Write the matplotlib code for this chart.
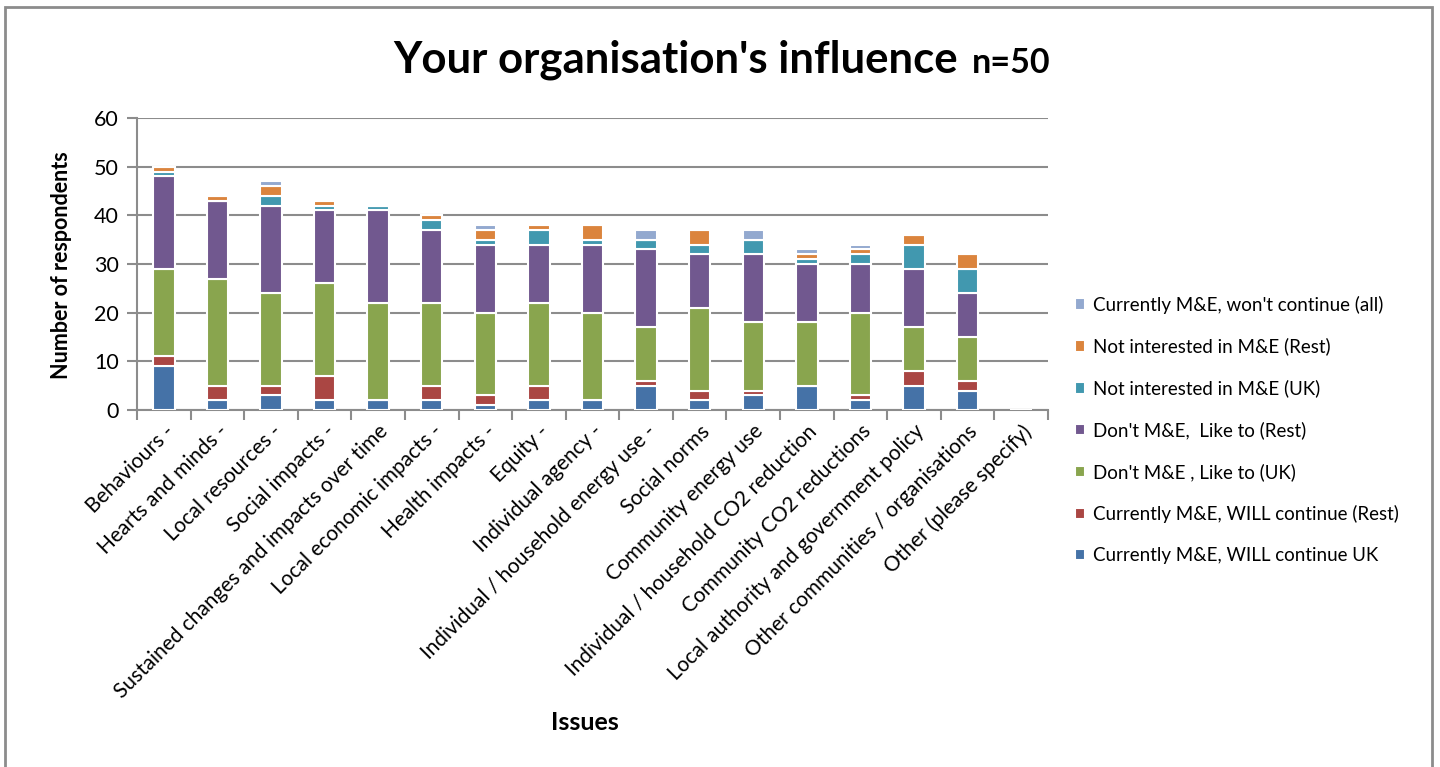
import numpy as np
import matplotlib
matplotlib.use('Agg')
from matplotlib import pyplot as plt
from matplotlib.patches import Rectangle

plt.rcParams['font.family'] = ['Lato', 'DejaVu Sans']

issues = ['Behaviours -', 'Hearts and minds -', 'Local resources -', 'Social impacts -',
          'Sustained changes and impacts over time', 'Local economic impacts -',
          'Health impacts -', 'Equity -', 'Individual agency -',
          'Individual / household energy use -', 'Social norms', 'Community energy use',
          'Individual / household CO2 reduction', 'Community CO2 reductions',
          'Local authority and government policy', 'Other communities / organisations',
          'Other (please specify)']

will_uk = [9, 2, 3, 2, 2, 2, 1, 2, 2, 5, 2, 3, 5, 2, 5, 4, 0]
will_rest = [2, 3, 2, 5, 0, 3, 2, 3, 0, 1, 2, 1, 0, 1, 3, 2, 0]
like_uk = [18, 22, 19, 19, 20, 17, 17, 17, 18, 11, 17, 14, 13, 17, 9, 9, 0]
like_rest = [19, 16, 18, 15, 19, 15, 14, 12, 14, 16, 11, 14, 12, 10, 12, 9, 0]
notint_uk = [1, 0, 2, 1, 1, 2, 1, 3, 1, 2, 2, 3, 1, 2, 5, 5, 0]
notint_rest = [1, 1, 2, 1, 0, 1, 2, 1, 3, 0, 3, 0, 1, 1, 2, 3, 0]
wont_all = [0, 0, 1, 0, 0, 0, 1, 0, 0, 2, 0, 2, 1, 1, 0, 0, 0]

series = [
    ('Currently M&E, WILL continue UK', will_uk, '#4572A7'),
    ('Currently M&E, WILL continue (Rest)', will_rest, '#AA4643'),
    ("Don't M&E , Like to (UK)", like_uk, '#89A54E'),
    ("Don't M&E,  Like to (Rest)", like_rest, '#71588F'),
    ('Not interested in M&E (UK)', notint_uk, '#4198AF'),
    ('Not interested in M&E (Rest)', notint_rest, '#DB843D'),
    ("Currently M&E, won't continue (all)", wont_all, '#93A9CF'),
]

fig = plt.figure(figsize=(14.4, 7.67), dpi=100)
ax = fig.add_axes([137 / 1440, 1 - 410 / 767, (1048 - 137) / 1440, (410 - 118) / 767])

x = np.arange(len(issues))
bottom = np.zeros(len(issues))
handles = []
for name, vals, col in series:
    vals = np.array(vals, dtype=float)
    b = ax.bar(x, vals, 0.4, bottom=bottom, color=col, edgecolor='white',
               linewidth=1.5, label=name, zorder=3)
    handles.append(b)
    bottom += vals

ax.set_xlim(-0.5, len(issues) - 0.5)
ax.set_ylim(0, 60)
ax.set_yticks(range(0, 61, 10))
ax.yaxis.grid(True, color='#8c8c8c', linewidth=1.5, zorder=0)
ax.set_axisbelow(True)
for s in ['top', 'right']:
    ax.spines[s].set_visible(False)
for s in ['left', 'bottom']:
    ax.spines[s].set_color('#8c8c8c')
    ax.spines[s].set_linewidth(1.5)

ax.set_xticks(x)
ax.set_xticklabels(issues, rotation=45, ha='right', rotation_mode='anchor', fontsize=15)
ax.tick_params(axis='x', length=0, pad=8)
ax.set_xticks(np.arange(-0.5, len(issues), 1), minor=True)
ax.tick_params(axis='x', which='minor', length=7, width=1.5, color='#8c8c8c')
ax.tick_params(axis='y', length=7, width=1.5, color='#8c8c8c', labelsize=15.5, pad=6)

fig.text(61 / 1440, 1 - 265 / 767, 'Number of respondents', fontsize=15.5,
         fontweight='bold', rotation=90, ha='center', va='center')
fig.text(585 / 1440, 1 - 723 / 767, 'Issues', fontsize=18, fontweight='bold',
         ha='center', va='center')

leg = ax.legend(handles[::-1], [h.get_label() for h in handles[::-1]],
                loc='center left', bbox_to_anchor=(1058 / 1440, 1 - 430 / 767),
                bbox_transform=fig.transFigure, frameon=False, fontsize=13.5,
                handlelength=0.55, handleheight=0.55, handletextpad=0.4, labelspacing=1.28)

# title: main text plus smaller n=50
t1 = fig.text(0, 1 - 60 / 767, "Your organisation's influence", fontsize=31.5,
              fontweight='bold', ha='left', va='center')
t2 = fig.text(0, 1 - 63 / 767, 'n=50', fontsize=24.5, fontweight='bold',
              ha='left', va='center')
fig.canvas.draw()
r = fig.canvas.get_renderer()
w1 = t1.get_window_extent(r).width / 1440
w2 = t2.get_window_extent(r).width / 1440
gap = 14 / 1440
start = 722 / 1440 - (w1 + gap + w2) / 2
t1.set_x(start)
t2.set_x(start + w1 + gap)

fig.add_artist(Rectangle((5 / 1440, -0.05), (1432 - 5) / 1440, 1.05 - 7 / 767,
                         transform=fig.transFigure, fill=False,
                         edgecolor='#8c8c8c', linewidth=2))

fig.savefig('out.png', dpi=100)
